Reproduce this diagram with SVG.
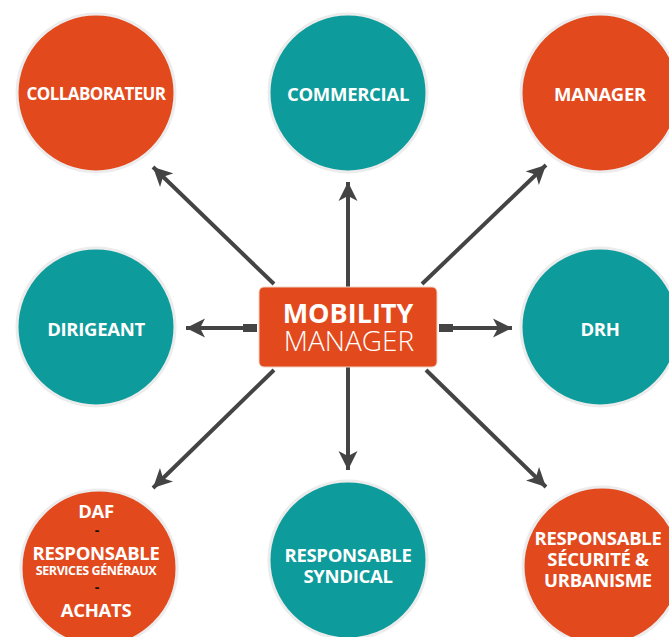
<svg xmlns="http://www.w3.org/2000/svg" width="669" height="637" viewBox="0 0 669 637">
<defs>
<style>
.o{fill:#E2491D;stroke:#ececec;stroke-width:3}
.t{fill:#0E9B9B;stroke:#ececec;stroke-width:3}
.l{font-family:"Open Sans","Liberation Sans",sans-serif;font-weight:700;fill:#fff;text-anchor:middle;font-size:18.5px;letter-spacing:-0.3px}
.c{stroke:#444;stroke-width:4;fill:none;marker-end:url(#ah)}
.d{font-family:"Open Sans","Liberation Sans",sans-serif;font-weight:700;fill:#111;text-anchor:middle;font-size:14px}
</style>
<marker id="ah" markerUnits="userSpaceOnUse" markerWidth="20" markerHeight="20" viewBox="0 0 20 20" refX="19" refY="10" orient="auto">
<path d="M0,0.5 L19,10 L0,19.5 L5,10 Z" fill="#444"/>
</marker>
</defs>
<rect width="669" height="637" fill="#fff"/>
<g id="connectors">
<line class="c" x1="348" y1="287" x2="348" y2="182"/>
<line class="c" x1="348" y1="367" x2="348" y2="470"/>
<line class="c" x1="274" y1="284" x2="153" y2="167"/>
<line class="c" x1="422" y1="284" x2="546" y2="165"/>
<line class="c" x1="274" y1="370" x2="153" y2="488"/>
<line class="c" x1="426" y1="370" x2="546" y2="487"/>
<line class="c" x1="250" y1="328" x2="186" y2="328"/>
<line class="c" x1="445" y1="328" x2="512" y2="328"/>
<rect x="243" y="324" width="14" height="8" fill="#444"/>
<rect x="439" y="324" width="14" height="8" fill="#444"/>
</g>
<g id="collaborateur">
<circle class="o" cx="96" cy="93" r="79"/>
<text class="l" x="96" y="100" style="font-size:17px;letter-spacing:-0.6px">COLLABORATEUR</text>
</g>
<g id="commercial">
<circle class="t" cx="348" cy="93" r="79"/>
<text class="l" x="348" y="101">COMMERCIAL</text>
</g>
<g id="manager">
<circle class="o" cx="600" cy="93" r="79"/>
<text class="l" x="600" y="101">MANAGER</text>
</g>
<g id="dirigeant">
<circle class="t" cx="96" cy="327" r="79"/>
<text class="l" x="96" y="336">DIRIGEANT</text>
</g>
<g id="drh">
<circle class="t" cx="600" cy="327" r="79"/>
<text class="l" x="600" y="336">DRH</text>
</g>
<g id="mobility-manager">
<rect x="259" y="287" width="178" height="80" rx="5" fill="#E2491D" stroke="#f0d0c4" stroke-width="1"/>
<text class="l" x="348" y="323" style="font-size:27px;letter-spacing:0">MOBILITY</text>
<text x="349" y="351" font-size="28" font-family="'Open Sans','Liberation Sans',sans-serif" font-weight="300" fill="#fff" text-anchor="middle">MANAGER</text>
</g>
<g id="daf">
<circle class="o" cx="99" cy="568" r="78"/>
<text class="l" x="96" y="518">DAF</text>
<text class="d" x="97" y="535">-</text>
<text class="l" x="96" y="560">RESPONSABLE</text>
<text class="l" x="96" y="575" style="font-size:12.5px;letter-spacing:-0.4px">SERVICES GÉNÉRAUX</text>
<text class="d" x="97" y="592">-</text>
<text class="l" x="96" y="617">ACHATS</text>
</g>
<g id="responsable-syndical">
<circle class="t" cx="348" cy="560" r="79"/>
<text class="l" x="348" y="562">RESPONSABLE</text>
<text class="l" x="348" y="583">SYNDICAL</text>
</g>
<g id="responsable-securite">
<circle class="o" cx="602" cy="566" r="79"/>
<text class="l" x="598" y="545">RESPONSABLE</text>
<text class="l" x="598" y="566">SÉCURITÉ &amp;</text>
<text class="l" x="598" y="587">URBANISME</text>
</g>
</svg>
